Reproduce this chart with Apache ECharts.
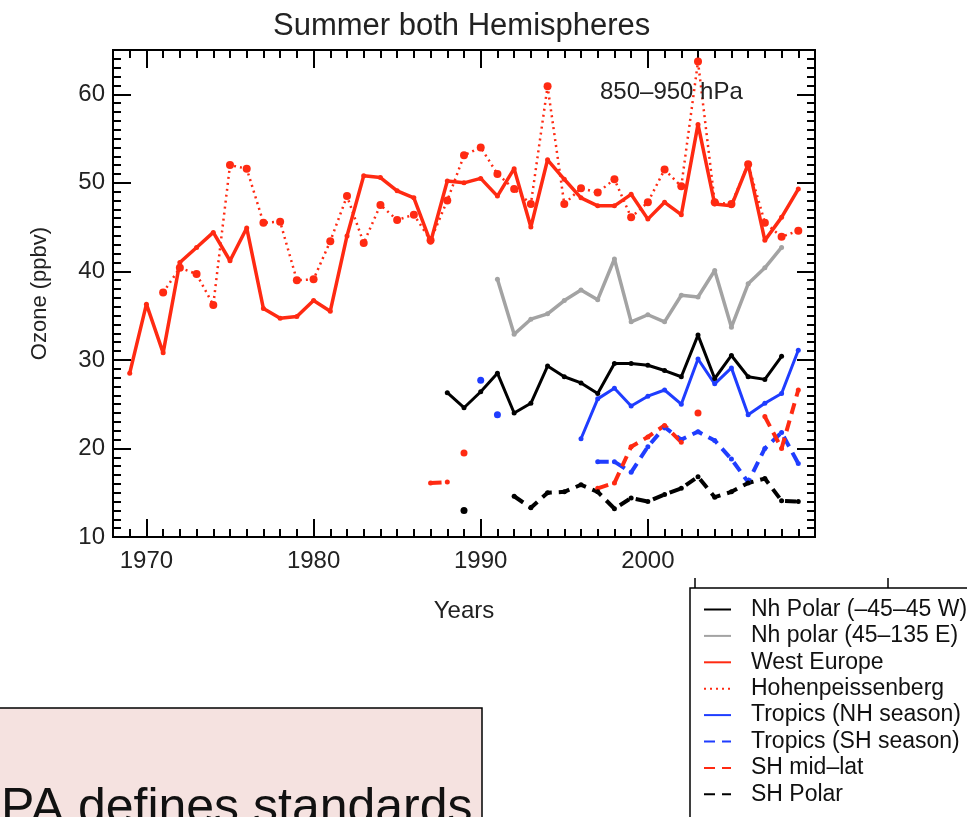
<!DOCTYPE html>
<html>
<head>
<meta charset="utf-8">
<script src="https://cdn.jsdelivr.net/npm/echarts@6/dist/echarts.min.js"></script>
<style>
html,body{margin:0;padding:0;background:#fff;}
#chart{width:967px;height:817px;}
</style>
</head>
<body>
<div id="chart"></div>
<script>
// ---------- data (ozone, ppbv) ----------
const westEuropeStart = 1969;
const westEurope = [28.5,36.3,30.8,41.0,42.7,44.4,41.2,44.9,35.8,34.7,
                    34.9,36.7,35.5,44.0,50.8,50.6,49.1,48.3,43.3,50.2,
                    50.0,50.5,48.5,51.6,45.0,52.6,50.4,48.3,47.4,47.4,
                    48.7,45.9,47.8,46.4,56.6,47.6,47.4,52.1,43.5,46.1,49.3];

const hohenStart = 1971;
const hohen = [37.6,40.4,39.7,36.2,52.0,51.6,45.5,45.6,
               39.0,39.1,43.4,48.5,43.2,47.5,45.8,46.4,43.5,48.0,
               53.1,54.0,51.0,49.3,47.6,60.9,47.6,49.4,48.9,50.4,
               46.1,47.8,51.5,49.6,63.7,47.8,47.6,52.1,45.5,43.9,44.6];

const nhPolarWStart = 1988;
const nhPolarW = [26.3,24.6,26.4,28.5,24.0,25.1,29.3,28.1,27.4,26.2,29.6,
                  29.6,29.4,28.8,28.1,32.8,27.9,30.5,28.1,27.8,30.4];

const nhPolarEStart = 1991;
const nhPolarE = [39.1,32.9,34.6,35.2,36.7,37.9,36.8,41.4,34.3,35.1,34.3,
                  37.3,37.1,40.1,33.7,38.6,40.4,42.7];

const tropicsNHStart = 1996;
const tropicsNH = [21.1,25.6,26.8,24.8,25.9,26.6,25.0,30.1,27.3,29.1,23.8,25.1,26.2,31.1];
const tropicsNHIsolated = [[1990,27.7],[1991,23.8]];

const tropicsSHStart = 1997;
const tropicsSH = [18.5,18.5,17.3,20.2,22.4,21.0,21.9,20.9,18.8,16.2,20.0,21.8,18.3];

const shMidLatStart = 1987;
const shMidLat = [16.1,16.2,null,null,null,null,null,null,null,null,
                  15.5,16.1,20.2,21.3,22.6,20.7,null,null,null,null,23.6,20.0,26.6];
const shMidLatIsolated = [[1989,19.5],[2003,24.0]];

const shPolarStart = 1992;
const shPolar = [14.6,13.3,15.0,15.1,15.9,15.1,13.2,14.4,14.0,14.8,
                 15.5,16.8,14.5,15.1,16.1,16.6,14.1,14.0];
const shPolarIsolated = [[1989,13.0]];

// ---------- axes / labels ----------
const legendNames = ['Nh Polar (\u201345\u201345 W)','Nh polar (45\u2013135 E)','West Europe',
  'Hohenpeissenberg','Tropics (NH season)','Tropics (SH season)','SH mid\u2013lat','SH Polar'];
const xMajorTicks = [1970,1980,1990,2000,2010];
const xTickLabels = [1970,1980,1990,2000];
const yMajorTicks = [10,20,30,40,50,60];
const yTickLabels = [10,20,30,40,50,60];
const titleText = 'Summer both Hemispheres';
const levelText = '850\u2013950 hPa';

const xMin = 1968, xMax = 2010, yMin = 10, yMax = 65;
const xMinor = []; for (let v = xMin; v <= xMax; v++) xMinor.push(v);
const yMinor = []; for (let v = yMin; v < yMax; v++) yMinor.push(v);

const FONT = '"Liberation Sans", Arial, Helvetica, sans-serif';
const RED = '#ff2a12', BLUE = '#1f3dff', GREY = '#a3a3a3', BLACK = '#000000';

function toPairs(start, vals) { return vals.map((v, i) => [start + i, v]); }

function axis(kind, pos, ticks, len, labels, extra) {
  const isX = kind === 'x';
  return Object.assign({
    type: 'value', position: pos, gridIndex: 0,
    min: isX ? xMin : yMin, max: isX ? xMax : yMax,
    axisLine: { show: true, onZero: false, lineStyle: { color: '#000', width: 2 } },
    axisTick: { show: true, inside: true, length: len, customValues: ticks,
                lineStyle: { color: '#000', width: 2 } },
    axisLabel: labels ? { show: true, customValues: labels, formatter: v => String(v),
                          fontSize: 24, color: '#222', fontFamily: FONT, margin: isX ? 12 : 8 }
                      : { show: false },
    splitLine: { show: false }, minorTick: { show: false }
  }, extra || {});
}

function line(name, start, vals, color, type, width, symSize, z) {
  return {
    type: 'line', name, data: toPairs(start, vals), xAxisIndex: 0, yAxisIndex: 0,
    symbol: 'circle', symbolSize: symSize, showSymbol: true, connectNulls: false,
    lineStyle: { color, width, type }, itemStyle: { color }, z: z, animation: false
  };
}
function iso(name, pts, color, size) {
  return { type: 'scatter', name, data: pts, xAxisIndex: 0, yAxisIndex: 0,
           symbol: 'circle', symbolSize: size, itemStyle: { color, opacity: 1 }, animation: false };
}

const DASH = [11, 7];
const DOT = [2, 4];

const chart = echarts.init(document.getElementById('chart'), null, { renderer: 'canvas' });
chart.setOption({
  backgroundColor: '#fff',
  animation: false,
  title: { text: titleText, left: 268, top: 6,
           textStyle: { fontSize: 31, fontWeight: 'normal', color: '#222', fontFamily: FONT } },
  grid: { left: 113, right: 152, top: 50, bottom: 280, containLabel: false },
  xAxis: [
    axis('x', 'bottom', xMajorTicks, 18, xTickLabels, {
      name: 'Years', nameLocation: 'middle', nameGap: 62,
      nameTextStyle: { fontSize: 24, color: '#222', fontFamily: FONT } }),
    axis('x', 'bottom', xMinor, 8, null),
    axis('x', 'top', xMajorTicks, 18, null),
    axis('x', 'top', xMinor, 8, null)
  ],
  yAxis: [
    axis('y', 'left', yMajorTicks, 18, yTickLabels, {
      name: 'Ozone (ppbv)', nameLocation: 'middle', nameGap: 62, nameRotate: 90,
      nameTextStyle: { fontSize: 22, color: '#222', fontFamily: FONT } }),
    axis('y', 'left', yMinor, 8, null),
    axis('y', 'right', yMajorTicks, 18, null),
    axis('y', 'right', yMinor, 8, null)
  ],
  legend: {
    data: legendNames, orient: 'vertical', left: 698, top: 593,
    itemWidth: 27, itemHeight: 14, itemGap: 3.4, selectedMode: false,
    textStyle: { fontSize: 23, color: '#111', fontFamily: FONT, padding: [0, 0, 0, 15] },
    itemStyle: { opacity: 0 },
    lineStyle: { width: 2 }
  },
  series: [
    line('Hohenpeissenberg', hohenStart, hohen, RED, DOT, 2.5, 8, 2),
    line('West Europe', westEuropeStart, westEurope, RED, 'solid', 3.5, 5, 3),
    line('Nh polar (45\u2013135 E)', nhPolarEStart, nhPolarE, GREY, 'solid', 3.5, 5, 2),
    line('Nh Polar (\u201345\u201345 W)', nhPolarWStart, nhPolarW, BLACK, 'solid', 3, 5, 2),
    line('Tropics (NH season)', tropicsNHStart, tropicsNH, BLUE, 'solid', 3, 5, 2),
    iso('tropicsNHIsolated', tropicsNHIsolated, BLUE, 7),
    line('Tropics (SH season)', tropicsSHStart, tropicsSH, BLUE, DASH, 4, 5, 2),
    line('SH mid\u2013lat', shMidLatStart, shMidLat, RED, DASH, 4, 5, 2),
    iso('shMidLatIsolated', shMidLatIsolated, RED, 7),
    line('SH Polar', shPolarStart, shPolar, BLACK, DASH, 4, 5, 2),
    iso('shPolarIsolated', shPolarIsolated, BLACK, 7)
  ],
  graphic: [
    { type: 'text', left: 600, top: 80, z: 10,
      style: { text: levelText, fontSize: 24, fill: '#222', fontFamily: FONT } },
    { type: 'rect', shape: { x: 690, y: 588, width: 300, height: 260 }, z: 0,
      style: { fill: 'none', stroke: '#000', lineWidth: 1.5 } },
    { type: 'line', shape: { x1: 695, y1: 578, x2: 695, y2: 588 },
      style: { stroke: '#000', lineWidth: 1.5 } },
    { type: 'line', shape: { x1: 888, y1: 578, x2: 888, y2: 588 },
      style: { stroke: '#000', lineWidth: 1.5 } },
    { type: 'rect', shape: { x: -2, y: 708, width: 484, height: 130 }, z: 0,
      style: { fill: '#f5e2e0', stroke: '#000', lineWidth: 1.5 } },
    { type: 'text', x: 1, y: 784, z: 1,
      style: { text: 'PA defines standards', fontSize: 50, fill: '#111', fontFamily: FONT,
               verticalAlign: 'top' } }
  ]
});
</script>
</body>
</html>
